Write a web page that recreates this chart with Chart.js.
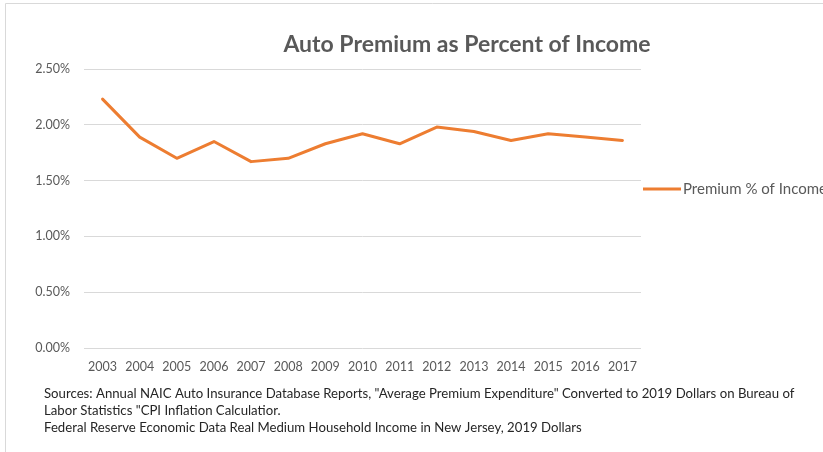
<!DOCTYPE html>
<html>
<head>
<meta charset="utf-8">
<script src="https://cdn.jsdelivr.net/npm/chart.js@4/dist/chart.umd.min.js"></script>
<style>
  html, body { margin: 0; padding: 0; background: #ffffff; overflow: hidden; width: 823px; height: 452px; }
  #wrap { position: relative; width: 823px; height: 452px; overflow: hidden; }
  canvas { display: block; }
</style>
</head>
<body>
<div id="wrap"><canvas id="c" width="860" height="452"></canvas></div>
<script>
const chartTitle = "Auto Premium as Percent of Income";
const years = ["2003","2004","2005","2006","2007","2008","2009","2010","2011","2012","2013","2014","2015","2016","2017"];
const seriesLabel = "Premium % of Income";
const premiumPct = [2.23, 1.89, 1.70, 1.85, 1.67, 1.70, 1.83, 1.92, 1.83, 1.98, 1.94, 1.86, 1.92, 1.89, 1.86];
const yTickValues = [0, 0.5, 1.0, 1.5, 2.0, 2.5];
const sourceLines = [
  "Sources: Annual NAIC Auto Insurance Database Reports, \"Average Premium Expenditure\" Converted to 2019 Dollars on Bureau of",
  "Labor Statistics \"CPI Inflation Calculatior.",
  "Federal Reserve Economic Data Real Medium Household Income in New Jersey, 2019 Dollars"
];

const FONT = "Lato, 'Open Sans', sans-serif";
const ORANGE = "#ED7D31";

const extras = {
  id: 'extras',
  afterDraw(chart) {
    const ctx = chart.ctx;
    ctx.save();
    // frame lines
    ctx.strokeStyle = "#d9d9d9";
    ctx.lineWidth = 1;
    ctx.beginPath();
    ctx.moveTo(5.5, 452);
    ctx.lineTo(5.5, 3.5);
    ctx.lineTo(860, 3.5);
    ctx.stroke();
    // title
    ctx.fillStyle = "#595959";
    ctx.font = "bold 23px " + FONT;
    ctx.textAlign = "center";
    ctx.textBaseline = "alphabetic";
    ctx.fillText(chartTitle, 467, 52);
    // legend
    const ds = chart.data.datasets[0];
    const ly = 189;
    ctx.strokeStyle = ds.borderColor;
    ctx.lineWidth = 3;
    ctx.lineCap = "butt";
    ctx.beginPath();
    ctx.moveTo(643, ly);
    ctx.lineTo(681, ly);
    ctx.stroke();
    ctx.fillStyle = "#595959";
    ctx.font = "15px " + FONT;
    ctx.textAlign = "left";
    ctx.textBaseline = "middle";
    ctx.fillText(ds.label, 683, ly);
    // sources
    ctx.fillStyle = "#262626";
    ctx.font = "13.2px " + FONT;
    ctx.textBaseline = "alphabetic";
    const baselines = [398, 415, 432];
    sourceLines.forEach((t, i) => ctx.fillText(t, 44, baselines[i]));
    ctx.restore();
  }
};

new Chart(document.getElementById('c'), {
  type: 'line',
  data: {
    labels: years,
    datasets: [{
      label: seriesLabel,
      data: premiumPct,
      borderColor: ORANGE,
      backgroundColor: ORANGE,
      borderWidth: 3,
      pointRadius: 0,
      pointHoverRadius: 0,
      tension: 0,
      fill: false,
      borderJoinStyle: 'round',
      borderCapStyle: 'round'
    }]
  },
  options: {
    responsive: false,
    animation: false,
    devicePixelRatio: 1,
    layout: { padding: { left: 0, right: 219, top: 69, bottom: 74 } },
    plugins: {
      legend: { display: false },
      title: { display: false },
      tooltip: { enabled: false }
    },
    scales: {
      x: {
        offset: true,
        grid: { display: false, drawTicks: false },
        border: { display: false },
        ticks: { color: "#595959", font: { family: FONT, size: 12.5 }, padding: 11, maxRotation: 0, autoSkip: false },
        afterFit(scale) { scale.height = 30; }
      },
      y: {
        min: 0,
        max: 2.5,
        grid: { color: "#d9d9d9", lineWidth: 1, drawTicks: false },
        border: { display: false },
        afterBuildTicks(scale) { scale.ticks = yTickValues.map(v => ({ value: v })); },
        ticks: {
          color: "#595959",
          font: { family: FONT, size: 12.5 },
          padding: 14,
          callback: (v) => Number(v).toFixed(2) + "%"
        },
        afterFit(scale) { scale.width = 84; }
      }
    }
  },
  plugins: [extras]
});
</script>
</body>
</html>
